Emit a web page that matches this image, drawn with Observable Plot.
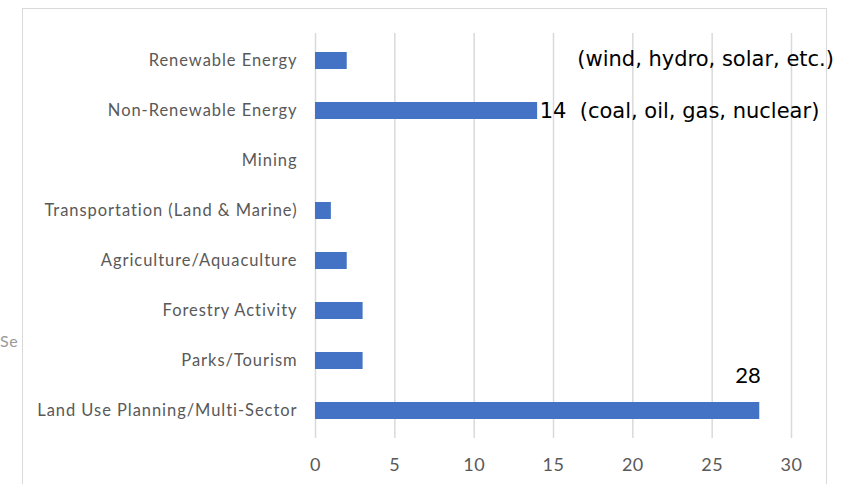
<!DOCTYPE html>
<html>
<head>
<meta charset="utf-8">
<script src="https://cdn.jsdelivr.net/npm/d3@7"></script>
<script src="https://cdn.jsdelivr.net/npm/@observablehq/plot@0.6"></script>
<style>
  html, body { margin: 0; padding: 0; background: #fff; overflow: hidden; }
  #wrap { position: relative; width: 849px; height: 484px; overflow: hidden; }
  #frame { position: absolute; left: 22px; top: 8px; width: 803px; height: 500px; border: 1.5px solid #d9d9d9; border-bottom: none; background: #fff; }
  #frag { position: absolute; left: 0px; top: 331px; font: 16px Lato, sans-serif; color: #9a9a9a; letter-spacing: 0.5px; }
  #chart { position: absolute; left: 0; top: 0; }
  #chart svg g[aria-label="y-axis tick label"] text { letter-spacing: 0.95px; }
  #chart svg g[aria-label="x-axis tick label"] text { letter-spacing: 0.5px; }
</style>
</head>
<body>
<div id="wrap">
  <div id="frag">Se</div>
  <div id="frame"></div>
  <div id="chart"></div>
</div>
<script>
const categories = [
  "Renewable Energy",
  "Non-Renewable Energy",
  "Mining",
  "Transportation (Land & Marine)",
  "Agriculture/Aquaculture",
  "Forestry Activity",
  "Parks/Tourism",
  "Land Use Planning/Multi-Sector"
];
const counts = [2, 14, 0, 1, 2, 3, 3, 28];
const xTicks = [0, 5, 10, 15, 20, 25, 30];

// annotations (in data units)
const noteRenewable = {category: "Renewable Energy", x: 16.5, text: "(wind, hydro, solar, etc.)"};
const noteNonRenewable = {category: "Non-Renewable Energy", x: 14, text: "14\u00a0\u00a0(coal, oil, gas, nuclear)"};
const noteLandUse = {category: "Land Use Planning/Multi-Sector", x: 28, text: "28"};

const data = categories.map((c, i) => ({category: c, value: counts[i]}));

const chart = Plot.plot({
  width: 849,
  height: 484,
  marginLeft: 315,
  marginRight: 58,
  marginTop: 33,
  marginBottom: 46,
  style: {fontFamily: "Lato, sans-serif", background: "transparent", overflow: "visible"},
  x: {domain: [0, 30], ticks: xTicks, label: null},
  y: {domain: categories, paddingInner: 0.66, paddingOuter: 0.33, label: null},
  marks: [
    Plot.gridX(xTicks, {stroke: "#d9d9d9", strokeOpacity: 1, strokeWidth: 1.5}),
    Plot.barX(data, {y: "category", x: "value", fill: "#4472C4"}),
    Plot.axisX({ticks: xTicks, tickSize: 0, tickPadding: 20, fontSize: 18, fill: "#595959", label: null}),
    Plot.axisY({tickSize: 0, tickPadding: 18, fontSize: 16.5, fill: "#595959", label: null}),
    Plot.text([noteRenewable], {x: "x", y: "category", text: "text", textAnchor: "start", dy: -2, fontSize: 21, fontFamily: "DejaVu Sans", fill: "#000"}),
    Plot.text([noteNonRenewable], {x: "x", y: "category", text: "text", textAnchor: "start", dx: 2, fontSize: 21, fontFamily: "DejaVu Sans", fill: "#000"}),
    Plot.text([noteLandUse], {x: "x", y: "category", text: "text", textAnchor: "end", dy: -35, dx: 1, fontSize: 22, fill: "#000"})
  ]
});
document.getElementById("chart").appendChild(chart);
</script>
</body>
</html>
